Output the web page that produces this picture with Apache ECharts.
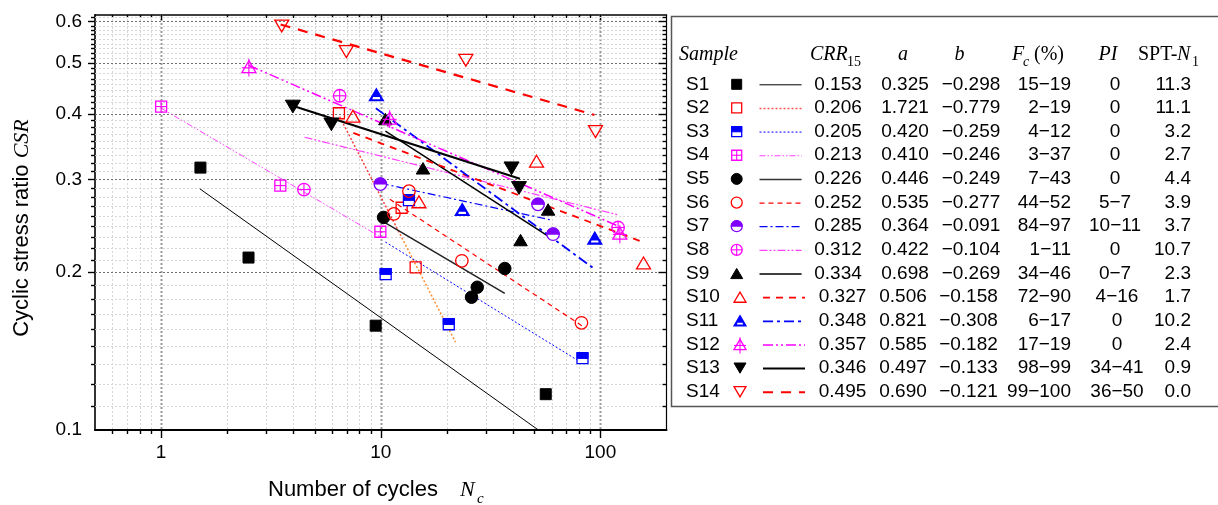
<!DOCTYPE html>
<html><head><meta charset="utf-8">
<script src="https://cdn.jsdelivr.net/npm/echarts@6/dist/echarts.min.js"></script>
<style>html,body{margin:0;padding:0;background:#fff}#c{width:1218px;height:505px}</style>
</head><body><div id="c"></div>
<script>
// ---------- data ----------
const samples = ['S1','S2','S3','S4','S5','S6','S7','S8','S9','S10','S11','S12','S13','S14'];
const crr15 = ['0.153','0.206','0.205','0.213','0.226','0.252','0.285','0.312','0.334','0.327','0.348','0.357','0.346','0.495'];
const paramA = ['0.325','1.721','0.420','0.410','0.446','0.535','0.364','0.422','0.698','0.506','0.821','0.585','0.497','0.690'];
const paramB = ['\u22120.298','\u22120.779','\u22120.259','\u22120.246','\u22120.249','\u22120.277','\u22120.091','\u22120.104','\u22120.269','\u22120.158','\u22120.308','\u22120.182','\u22120.133','\u22120.121'];
const finesContent = ['15\u221219','2\u221219','4\u221212','3\u221237','7\u221243','44\u221252','84\u221297','1\u221211','34\u221246','72\u221290','6\u221217','17\u221219','98\u221299','99\u2212100'];
const plasticity = ['0','0','0','0','0','5\u22127','10\u221211','0','0\u22127','4\u221216','0','0','34\u221241','36\u221250'];
const sptN1 = ['11.3','11.1','3.2','2.7','4.4','3.9','3.7','10.7','2.3','1.7','10.2','2.4','0.9','0.0'];

// measured points [N, CSR]
const S1_pts  = [[1.51,0.316],[2.50,0.213],[9.48,0.158],[56.4,0.117]];
const S2_pts  = [[6.45,0.401],[12.45,0.265],[14.42,0.204]];
const S3_pts  = [[13.44,0.274],[10.53,0.198],[20.4,0.159],[82.9,0.137]];
const S4_pts  = [[1.0,0.413],[3.49,0.292],[9.96,0.2385]];
const S5_pts  = [[10.3,0.254],[25.9,0.179],[27.5,0.187],[36.7,0.203]];
const S6_pts  = [[13.44,0.285],[11.48,0.258],[23.4,0.210],[82.0,0.160]];
const S7_pts  = [[9.96,0.294],[52.0,0.269],[60.9,0.236]];
const S8_pts  = [[4.47,0.287],[6.5,0.433],[120.4,0.243]];
const S9_pts  = [[10.5,0.391],[15.57,0.315],[57.8,0.263],[43.3,0.230]];
const S10_pts = [[7.47,0.396],[14.93,0.272],[51.2,0.325],[157.2,0.208]];
const S11_pts = [[9.55,0.435],[23.5,0.263],[94.3,0.232]];
const S12_pts = [[2.51,0.492],[10.98,0.3925],[122.6,0.237]];
const S13_pts = [[3.98,0.413],[5.96,0.382],[39.4,0.315],[42.6,0.289]];
const S14_pts = [[3.54,0.588],[6.97,0.5255],[24.4,0.506],[95.0,0.370]];

// fitted line end points [N, CSR]
const S1_fit  = [[1.5,0.288],[52.2,0.1]];
const S2_fit  = [[6.5,0.395],[21.9,0.147]];
const S3_fit  = [[10.5,0.228],[80.5,0.135]];
const S4_fit  = [[1.0,0.410],[10.0,0.233]];
const S5_fit  = [[10.5,0.248],[36.7,0.182]];
const S6_fit  = [[11.0,0.275],[82.3,0.158]];
const S7_fit  = [[10.0,0.295],[60.0,0.251]];
const S8_fit  = [[4.5,0.361],[120,0.257]];
const S9_fit  = [[10.5,0.371],[57.8,0.234]];
const S10_fit = [[7.5,0.368],[156,0.228]];
const S11_fit = [[9.5,0.410],[92.6,0.2035]];
const S12_fit = [[2.5,0.495],[122,0.244]];
const S13_fit = [[4.0,0.414],[43.0,0.301]];
const S14_fit = [[3.5,0.592],[94.0,0.398]];

const allPts = [S1_pts,S2_pts,S3_pts,S4_pts,S5_pts,S6_pts,S7_pts,S8_pts,S9_pts,S10_pts,S11_pts,S12_pts,S13_pts,S14_pts];
const allFits = [S1_fit,S2_fit,S3_fit,S4_fit,S5_fit,S6_fit,S7_fit,S8_fit,S9_fit,S10_fit,S11_fit,S12_fit,S13_fit,S14_fit];

// axis ticks
const X_MIN = 0.5, X_MAX = 200, Y_MIN = 0.1, Y_MAX = 0.617;
const xMajorTicks = [1, 10, 100];
const xMinorTicks = [0.6,0.7,0.8,0.9,2,3,4,5,6,7,8,9,20,30,40,50,60,70,80,90];
const yLabels = [0.1,0.2,0.3,0.4,0.5,0.6];
const yMajorTicks = [0.2,0.3,0.4,0.5,0.6];
const yMinorTicks = [];
yLabels.forEach(b => { for (let k = 1; k <= 8; k++) { const v = b + k * 0.1 / 9; if (v < Y_MAX) yMinorTicks.push(v); } });

// ---------- styles ----------
const RED = '#ff0000', BLUE = '#0000ff', MAG = '#ff00ff', PUR = '#8000ff', BLK = '#000000';
const markerStyle = [
  ['sqFill',BLK,11],['sqOpen',RED,11],['sqHalf',BLUE,11],['sqCross',MAG,11],
  ['ciFill',BLK,12.5],['ciOpen',RED,12.5],['ciHalf',PUR,12.5],['ciCross',MAG,12.5],
  ['trFill',BLK,13.5],['trOpen',RED,14],['trHalf',BLUE,14],['trCross',MAG,14],
  ['dtFill',BLK,15],['dtOpen',RED,14]
];
const s2Grad = new echarts.graphic.LinearGradient(0,0,0,1,[
  {offset:0,color:'#ff4040'},{offset:0.5,color:'#ff4040'},{offset:0.56,color:'#ff9030'},{offset:1,color:'#ff9030'}]);
const lineStyles = [
  {color:'#000', width:1, type:'solid'},
  {color:s2Grad, width:1.5, type:[2,2]},
  {color:BLUE, width:1, type:[2,2]},
  {color:'#ff40ff', width:1, type:[6,2,1.5,2,1.5,2]},
  {color:'#222', width:1.5, type:'solid'},
  {color:RED, width:1.2, type:[5,4]},
  {color:BLUE, width:1.2, type:[8,3,2,3]},
  {color:'#ff40ff', width:1.2, type:[8,2,2,2,2,2]},
  {color:'#000', width:1.5, type:'solid'},
  {color:RED, width:1.8, type:[7,6]},
  {color:BLUE, width:1.8, type:[10,4,3,4]},
  {color:MAG, width:1.5, type:[10,3,2,3,2,3]},
  {color:'#000', width:2.2, type:'solid'},
  {color:RED, width:2.2, type:[10,8]}
];
const legendLineColor = ['#000','#ff5050',BLUE,'#ff40ff','#333',RED,BLUE,'#ff40ff','#000',RED,BLUE,MAG,'#000',RED];

function markerEls(kind, color, cx, cy, s) {
  const h = s / 2, lw = 1.3, els = [];
  const th = s * 0.85;
  const triUp = [[cx, cy - th/2],[cx + h, cy + th/2],[cx - h, cy + th/2]];
  const triDn = [[cx, cy + th/2],[cx + h, cy - th/2],[cx - h, cy - th/2]];
  const ln = (x1,y1,x2,y2) => ({type:'line', shape:{x1,y1,x2,y2}, style:{stroke:color, lineWidth:1.1}});
  switch (kind) {
    case 'sqFill': els.push({type:'rect', shape:{x:cx-h,y:cy-h,width:s,height:s}, style:{fill:color,stroke:color,lineWidth:1}}); break;
    case 'sqOpen': els.push({type:'rect', shape:{x:cx-h,y:cy-h,width:s,height:s}, style:{fill:'none',stroke:color,lineWidth:lw}}); break;
    case 'sqHalf':
      els.push({type:'rect', shape:{x:cx-h,y:cy-h,width:s,height:s}, style:{fill:'#fff',stroke:color,lineWidth:lw}});
      els.push({type:'rect', shape:{x:cx-h,y:cy-h,width:s,height:s*0.52}, style:{fill:color,stroke:color,lineWidth:1}}); break;
    case 'sqCross':
      els.push({type:'rect', shape:{x:cx-h,y:cy-h,width:s,height:s}, style:{fill:'none',stroke:color,lineWidth:lw}});
      els.push(ln(cx,cy-h,cx,cy+h)); els.push(ln(cx-h,cy,cx+h,cy)); break;
    case 'ciFill': els.push({type:'circle', shape:{cx,cy,r:h}, style:{fill:color,stroke:color,lineWidth:1}}); break;
    case 'ciOpen': els.push({type:'circle', shape:{cx,cy,r:h}, style:{fill:'none',stroke:color,lineWidth:lw}}); break;
    case 'ciHalf':
      els.push({type:'circle', shape:{cx,cy,r:h}, style:{fill:'#fff',stroke:color,lineWidth:lw}});
      els.push({type:'sector', shape:{cx,cy,r0:0,r:h,startAngle:Math.PI,endAngle:2*Math.PI,clockwise:true}, style:{fill:color,stroke:color,lineWidth:1}}); break;
    case 'ciCross':
      els.push({type:'circle', shape:{cx,cy,r:h}, style:{fill:'none',stroke:color,lineWidth:lw}});
      els.push(ln(cx,cy-h,cx,cy+h)); els.push(ln(cx-h,cy,cx+h,cy)); break;
    case 'trFill': els.push({type:'polygon', shape:{points:triUp}, style:{fill:color,stroke:color,lineWidth:1}}); break;
    case 'trOpen': els.push({type:'polygon', shape:{points:triUp}, style:{fill:'none',stroke:color,lineWidth:lw}}); break;
    case 'trHalf': {
      els.push({type:'polygon', shape:{points:triUp}, style:{fill:color,stroke:color,lineWidth:lw}});
      const top = cy - th/2, yb = cy + th/2 - 1.4, y1 = cy + th/2 - th*0.3;
      const wAt = y => h * (y - top) / th;
      els.push({type:'polygon', shape:{points:[[cx - wAt(y1) + 1.6, y1],[cx + wAt(y1) - 1.6, y1],[cx + wAt(yb) - 2.2, yb],[cx - wAt(yb) + 2.2, yb]]}, style:{fill:'#fff'}});
      break; }
    case 'trCross':
      els.push({type:'polygon', shape:{points:triUp}, style:{fill:'none',stroke:color,lineWidth:lw}});
      els.push(ln(cx,cy-th/2-2,cx,cy+th/2+4)); els.push(ln(cx-h,cy+th*0.1,cx+h,cy+th*0.1)); break;
    case 'dtFill': els.push({type:'polygon', shape:{points:triDn}, style:{fill:color,stroke:color,lineWidth:1}}); break;
    case 'dtOpen': els.push({type:'polygon', shape:{points:triDn}, style:{fill:'none',stroke:color,lineWidth:lw}}); break;
  }
  return els;
}

// ---------- grid (lines + ticks) drawn through the axes ----------
const gridData = [];
xMinorTicks.forEach(v => gridData.push([v, 0.2, 0]));
xMajorTicks.forEach(v => gridData.push([v, 0.2, 1]));
yMinorTicks.forEach(v => gridData.push([1, v, 2]));
yMajorTicks.forEach(v => gridData.push([1, v, 3]));

function gridRender(params, api) {
  const cs = params.coordSys;
  const L = cs.x, T = cs.y, R = cs.x + cs.width, B = cs.y + cs.height;
  const kind = api.value(2), els = [];
  if (kind <= 1) {
    const px = Math.round(api.coord([api.value(0), 0.2])[0]) + 0.5;
    const major = kind === 1;
    els.push({type:'line', shape:{x1:px,y1:T,x2:px,y2:B}, style:{stroke:major?'#9a9a9a':'#d6d6d6', lineWidth:major?2:1, lineDash:[2,2]}});
    els.push({type:'line', shape:{x1:px,y1:B,x2:px,y2:B+(major?8:4)}, style:{stroke:'#000', lineWidth:1.4}});
    els.push({type:'line', shape:{x1:px,y1:T,x2:px,y2:T+(major?5:3)}, style:{stroke:'#000', lineWidth:1.4}});
  } else {
    const py = Math.round(api.coord([1, api.value(1)])[1]) + 0.5;
    const major = kind === 3;
    els.push({type:'line', shape:{x1:L,y1:py,x2:R,y2:py}, style:{stroke:major?'#707070':'#d6d6d6', lineWidth:1, lineDash:[2,2]}});
    els.push({type:'line', shape:{x1:L-(major?7:4),y1:py,x2:L,y2:py}, style:{stroke:'#000', lineWidth:1.4}});
    els.push({type:'line', shape:{x1:R-(major?8:4),y1:py,x2:R,y2:py}, style:{stroke:'#000', lineWidth:1.4}});
  }
  return {type:'group', children:els};
}

const series = [{
  type:'custom', name:'grid', data:gridData, encode:{x:0,y:1}, renderItem:gridRender, silent:true, z:1, clip:false
}];
allFits.forEach((f, i) => series.push({
  type:'line', name:samples[i] + ' fit', data:f, showSymbol:false, symbol:'none', silent:true, z:3,
  lineStyle:lineStyles[i]
}));
allPts.forEach((p, i) => series.push({
  type:'custom', name:samples[i], data:p, encode:{x:0,y:1}, z:4, silent:true, clip:false,
  renderItem:(params, api) => {
    const pt = api.coord([api.value(0), api.value(1)]);
    const m = markerStyle[i];
    return {type:'group', children:markerEls(m[0], m[1], pt[0], pt[1], m[2])};
  }
}));

// ---------- table (legend) ----------
const graphics = [];
graphics.push({type:'rect', shape:{x:671.5,y:16.5,width:560,height:390}, style:{fill:'#fff',stroke:'#555',lineWidth:1.5}, z:-1});
const SER = '"Liberation Serif", "Times New Roman", serif', SANS = '"Liberation Sans", Arial, sans-serif';
function txt(t, x, y, font, align) {
  graphics.push({type:'text', x, y, style:{text:t, font, fill:'#000', align:align||'left', verticalAlign:'middle'}});
}
const HY = 55;
txt('Sample', 679, HY, 'italic 20px ' + SER);
txt('CRR', 810, HY, 'italic 20px ' + SER);
txt('15', 847, HY + 7, '14px ' + SER);
txt('a', 903, HY, 'italic 20px ' + SER, 'center');
txt('b', 959.5, HY, 'italic 20px ' + SER, 'center');
txt('F', 1012, HY, 'italic 20px ' + SER);
txt('c', 1023, HY + 7, 'italic 14px ' + SER);
txt('(%)', 1034, HY, '20px ' + SER);
txt('PI', 1108, HY, 'italic 20px ' + SER, 'center');
txt('SPT-', 1138, HY, '20px ' + SER);
txt('N', 1177, HY, 'italic 20px ' + SER);
txt('1', 1192, HY + 7, '14px ' + SER);

samples.forEach((s, i) => {
  const y = 84.3 + i * 23.65;
  const late = i >= 9;
  const F = '19px ' + SANS;
  txt(s, 686, y, F);
  const m = markerStyle[i];
  const ms = m[0].startsWith('sq') ? 10 : (m[0].startsWith('ci') ? 11 : 12);
  graphics.push({type:'group', children:markerEls(m[0], m[1], late ? 740 : 736.7, y, ms)});
  const ls = lineStyles[i];
  graphics.push({type:'line', shape:{x1:late?763:759.5, y1:y+0.5, x2:late?805:801.6, y2:y+0.5},
    style:{stroke:legendLineColor[i], lineWidth:Math.min(ls.width,2), lineDash: ls.type === 'solid' ? null : ls.type}});
  txt(crr15[i], late ? 842.5 : 838, y, F, 'center');
  txt(paramA[i], late ? 903 : 905, y, F, 'center');
  txt(paramB[i], late ? 968.5 : 971, y, F, 'center');
  txt(finesContent[i], 1071, y, F, 'right');
  txt(plasticity[i], late ? 1117 : 1115, y, F, 'center');
  txt(sptN1[i], 1191, y, F, 'right');
});

// axis titles
graphics.push({type:'text', x:22, y:228, rotation:Math.PI/2,
  style:{text:'Cyclic stress ratio {i|CSR}', font:'22px ' + SANS, fill:'#000', align:'center', verticalAlign:'middle',
    rich:{i:{font:'italic 22px ' + SER, fill:'#000'}}}});
txt('Number of cycles', 268, 490, '22px ' + SANS);
txt('N', 460, 490, 'italic 22px ' + SER);
txt('c', 477, 499, 'italic 15px ' + SER);

const axisBase = {type:'log', logBase:10, splitLine:{show:false}, axisTick:{show:false}, minorTick:{show:false}};
const option = {
  animation:false,
  backgroundColor:'#fff',
  grid:{left:95, top:15, width:571.5, height:415, containLabel:false},
  xAxis:[
    Object.assign({}, axisBase, {min:X_MIN, max:X_MAX, position:'bottom',
      axisLine:{lineStyle:{color:'#000', width:2}},
      axisLabel:{customValues:xMajorTicks, formatter:v => String(Math.round(v)), color:'#000', fontSize:19, fontFamily:'Liberation Sans', margin:13}}),
    Object.assign({}, axisBase, {min:X_MIN, max:X_MAX, position:'top',
      axisLine:{lineStyle:{color:'#000', width:1.5}}, axisLabel:{show:false}})
  ],
  yAxis:[
    Object.assign({}, axisBase, {min:Y_MIN, max:Y_MAX, position:'left',
      axisLine:{lineStyle:{color:'#333', width:2}},
      axisLabel:{customValues:yLabels, formatter:v => (+v).toFixed(1), color:'#000', fontSize:19, fontFamily:'Liberation Sans', margin:13}}),
    Object.assign({}, axisBase, {min:Y_MIN, max:Y_MAX, position:'right',
      axisLine:{lineStyle:{color:'#000', width:1.2}}, axisLabel:{show:false}})
  ],
  series,
  graphic:graphics
};
const chart = echarts.init(document.getElementById('c'), null, {renderer:'canvas'});
chart.setOption(option);
</script>
</body></html>
